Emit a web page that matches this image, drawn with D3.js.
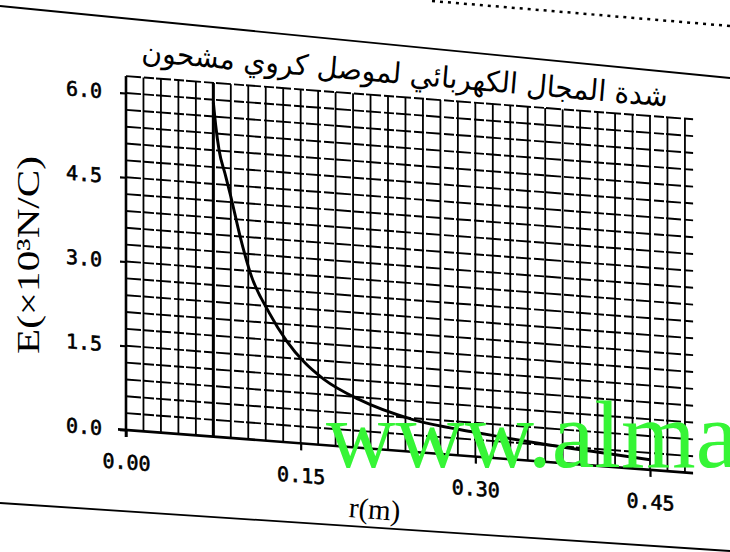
<!DOCTYPE html>
<html>
<head>
<meta charset="utf-8">
<script src="https://cdn.jsdelivr.net/npm/d3@7"></script>
<style>
  html, body { margin: 0; padding: 0; background: #fff; }
  svg { display: block; }
</style>
</head>
<body>
<div id="chart"></div>
<script>
/* DATA */
const radius = [0.075, 0.077, 0.080, 0.085, 0.090, 0.098, 0.107, 0.123, 0.138, 0.153, 0.170, 0.200, 0.245, 0.300, 0.350, 0.400, 0.450];
const field  = [5.95, 5.55, 5.10, 4.70, 4.30, 3.60, 2.95, 2.28, 1.80, 1.45, 1.17, 0.86, 0.58, 0.43, 0.33, 0.25, 0.18];
const sphereEdge = 0.075;
const xTickValues = [0, 0.15, 0.30, 0.45];
const yTickValues = [0, 1.5, 3.0, 4.5, 6.0];
const titleText = "شدة المجال الكهربائي لموصل كروي مشحون";
const yTitle = "E(×10³N/C)";
const xTitle = "r(m)";
const watermark = "www.alma";

/* LAYOUT */
const W = 730, H = 552;
const origin = { x: 126, y: 430 };
const tilt = Math.atan(0.076) * 180 / Math.PI; // scan is skewed
const ink = "#000";

const svg = d3.select("#chart").append("svg")
  .attr("width", W)
  .attr("height", H)
  .style("background", "#fff");

// scales (local, before skew)
const x = d3.scaleLinear().domain([0, 0.45]).range([0, 524]);
const y = d3.scaleLinear().domain([0, 6]).range([0, -337]);

// paper edges from the scan
svg.append("line")
  .attr("x1", 0).attr("y1", 6).attr("x2", W).attr("y2", 78)
  .attr("stroke", ink).attr("stroke-width", 1.8);
svg.append("line")
  .attr("x1", 432).attr("y1", 1).attr("x2", W).attr("y2", 26)
  .attr("stroke", ink).attr("stroke-width", 2.5)
  .attr("stroke-dasharray", "3,5");
svg.append("line")
  .attr("x1", 0).attr("y1", 503).attr("x2", W).attr("y2", 551)
  .attr("stroke", ink).attr("stroke-width", 1.8);

// title (single tilted line)
const title = svg.append("text")
  .attr("text-anchor", "middle")
  .attr("font-family", "DejaVu Sans")
  .attr("font-size", 29)
  .attr("fill", ink)
  .text(titleText);
const tw = title.node().getComputedTextLength();
title.attr("transform", `translate(404,84) rotate(4.9) scale(${528 / tw},1)`);

// chart group, skewed like the scan
const g = svg.append("g")
  .attr("transform", `translate(${origin.x},${origin.y}) skewY(${tilt})`);

// grid
const gridR = d3.range(1, 33).map(i => i * 0.015);
const gridE = d3.range(1, 22).map(i => i * 0.3);

g.append("g").selectAll("line")
  .data(gridE)
  .join("line")
  .attr("x1", 0).attr("x2", x(0.487))
  .attr("y1", d => y(d)).attr("y2", d => y(d))
  .attr("stroke", ink).attr("stroke-width", 1.9)
  .attr("stroke-dasharray", "15,3,10,2");

g.append("g").selectAll("line")
  .data(gridR)
  .join("line")
  .attr("x1", d => x(d)).attr("x2", d => x(d))
  .attr("y1", 0).attr("y2", y(6.3))
  .attr("stroke", ink).attr("stroke-width", 1.8);

// heavy line at the sphere surface
g.append("line")
  .attr("x1", x(sphereEdge)).attr("x2", x(sphereEdge))
  .attr("y1", 0).attr("y2", y(6.3))
  .attr("stroke", ink).attr("stroke-width", 3);

// axes
const xAxis = d3.axisBottom(x)
  .tickValues(xTickValues)
  .tickFormat(d3.format(".2f"))
  .tickSize(7)
  .tickPadding(18);
const yAxis = d3.axisLeft(y)
  .tickValues(yTickValues)
  .tickFormat(d3.format(".1f"))
  .tickSize(6)
  .tickPadding(18);

const xAxisGroup = g.append("g").call(xAxis);
const yAxisGroup = g.append("g").call(yAxis);
[xAxisGroup, yAxisGroup].forEach(a => {
  a.select(".domain").remove();
  a.selectAll(".tick line").attr("stroke", ink).attr("stroke-width", 2.2);
  a.selectAll(".tick text")
    .attr("fill", ink)
    .attr("font-family", "DejaVu Sans Mono")
    .attr("font-size", 20)
    .attr("stroke", ink)
    .attr("stroke-width", 0.6);
});

g.append("line")
  .attr("x1", -8).attr("x2", x(0.487))
  .attr("y1", 0).attr("y2", 0)
  .attr("stroke", ink).attr("stroke-width", 2.6);
g.append("line")
  .attr("x1", 0).attr("x2", 0)
  .attr("y1", 7).attr("y2", y(6.3))
  .attr("stroke", ink).attr("stroke-width", 2.6);

// the field curve
const line = d3.line()
  .x((d, i) => x(radius[i]))
  .y(d => y(d))
  .curve(d3.curveMonotoneX);

g.append("path")
  .datum(field)
  .attr("fill", "none")
  .attr("stroke", ink)
  .attr("stroke-width", 3)
  .attr("d", line);

// axis titles
svg.append("text")
  .attr("transform", "translate(39,255) rotate(-90)")
  .attr("text-anchor", "middle")
  .attr("font-family", "Liberation Serif")
  .attr("font-size", 32)
  .attr("fill", ink)
  .attr("textLength", 198)
  .attr("lengthAdjust", "spacingAndGlyphs")
  .text(yTitle);

svg.append("text")
  .attr("transform", `translate(374,519) rotate(${tilt})`)
  .attr("text-anchor", "middle")
  .attr("font-family", "Liberation Serif")
  .attr("font-size", 29)
  .attr("fill", ink)
  .text(xTitle);

// watermark from the scan
svg.append("text")
  .attr("x", 326)
  .attr("y", 467)
  .attr("font-family", "Liberation Serif")
  .attr("font-size", 96)
  .attr("fill", "#36f536")
  .text(watermark);
</script>
</body>
</html>
